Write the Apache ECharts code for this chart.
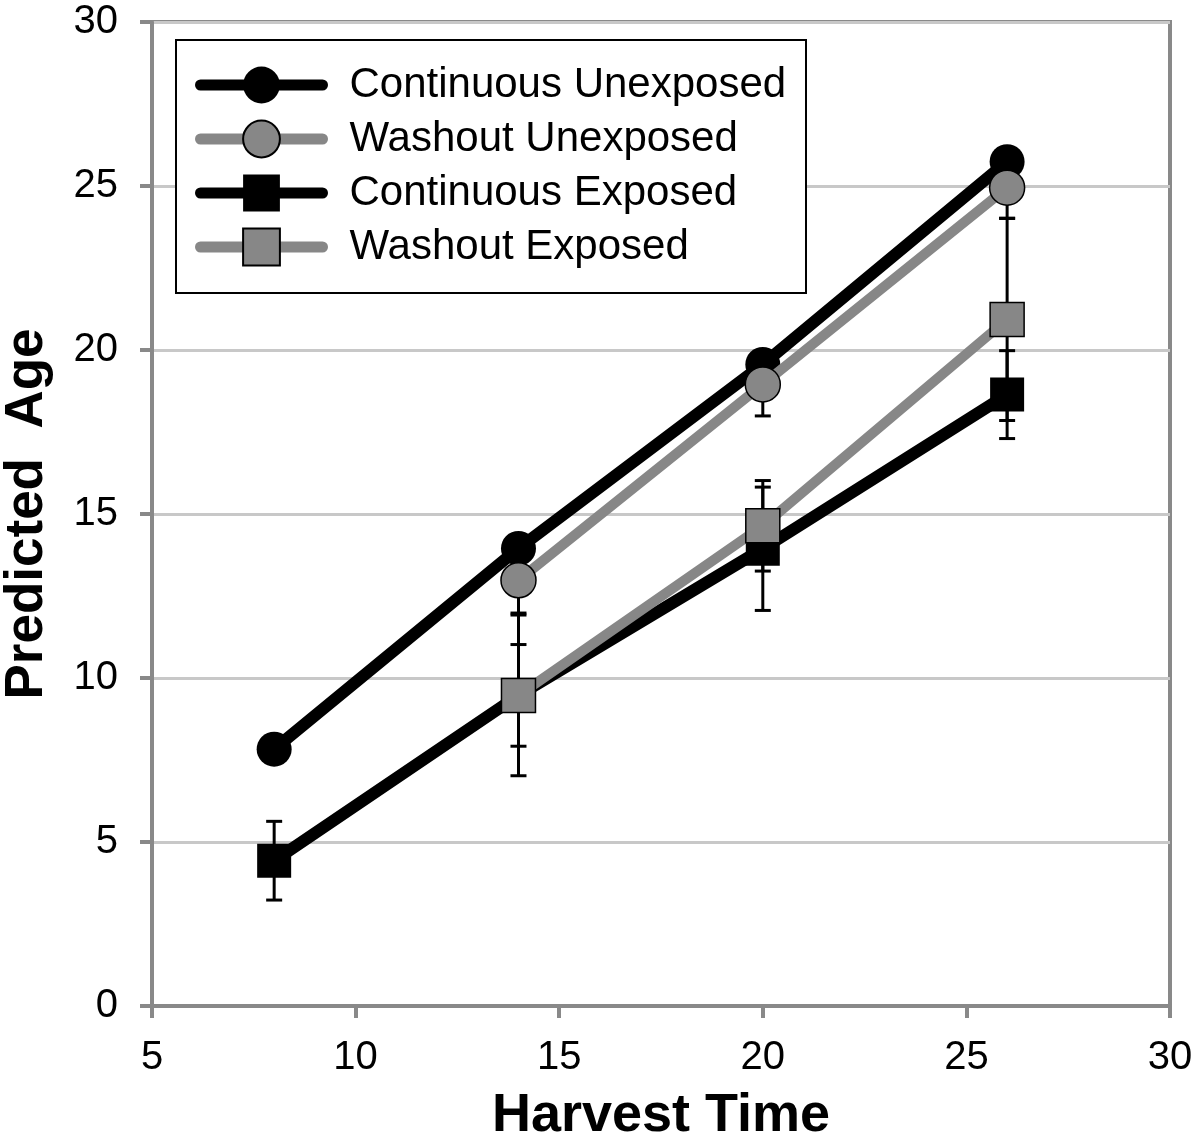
<!DOCTYPE html>
<html>
<head>
<meta charset="utf-8">
<script src="https://cdn.jsdelivr.net/npm/echarts@6/dist/echarts.min.js"></script>
<style>html,body{margin:0;padding:0;background:#fff}#c{width:1200px;height:1145px}</style>
</head>
<body>
<div id="c"></div>
<script>
const harvestTimes = [8, 14, 20, 26];
const seriesNames = ['Continuous Unexposed', 'Washout Unexposed', 'Continuous Exposed', 'Washout Exposed'];
const continuousUnexposed = [7.83, 13.95, 19.56, 25.74];
const washoutUnexposed = [null, 12.98, 18.95, 24.95];
const continuousExposed = [4.43, 9.47, 13.94, 18.64];
const washoutExposed = [null, 9.47, 14.64, 20.93];
const errContinuousUnexposed = [0, 0, 0, 0];
const errWashoutUnexposed = [null, 1.0, 0.96, 0.93];
const errContinuousExposed = [1.2, 1.55, 1.88, 1.34];
const errWashoutExposed = [null, 2.45, 1.38, 3.08];
const xTicks = [5, 10, 15, 20, 25, 30];
const yTicks = [0, 5, 10, 15, 20, 25, 30];

const FONT = "'Liberation Sans', Arial, sans-serif";
const AXIS_GREY = '#898989';
const GREY = '#878787';

function pts(vals) {
  return harvestTimes.map((x, i) => vals[i] == null ? null : [x, vals[i]]).filter(d => d);
}
function errData(vals, errs) {
  const out = [];
  harvestTimes.forEach((x, i) => {
    if (vals[i] != null && errs[i]) out.push([x, vals[i] - errs[i], vals[i] + errs[i]]);
  });
  return out;
}
const allErr = [].concat(
  errData(continuousUnexposed, errContinuousUnexposed),
  errData(washoutUnexposed, errWashoutUnexposed),
  errData(continuousExposed, errContinuousExposed),
  errData(washoutExposed, errWashoutExposed)
);

function lineSeries(name, vals, color, width, symbol, size, z) {
  return {
    name: name, type: 'line', data: pts(vals), z: z,
    symbol: symbol, symbolSize: size,
    lineStyle: { color: color, width: width },
    itemStyle: { color: color, borderColor: '#000', borderWidth: color === '#000' ? 0 : 1.5 },
    emphasis: { disabled: true }
  };
}

const chart = echarts.init(document.getElementById('c'), null, { renderer: 'canvas' });
chart.setOption({
  animation: false,
  backgroundColor: '#fff',
  grid: { left: 152, right: 30, top: 22, bottom: 139, show: true, borderColor: AXIS_GREY, borderWidth: 4, backgroundColor: 'transparent', outerBoundsMode: 'none', containLabel: false },
  xAxis: {
    type: 'value', min: xTicks[0], max: xTicks[xTicks.length - 1], interval: 5,
    name: 'Harvest Time', nameLocation: 'middle', nameGap: 83,
    nameTextStyle: { fontFamily: FONT, fontWeight: 'bold', fontSize: 54, color: '#000' },
    axisLine: { show: true, lineStyle: { color: AXIS_GREY, width: 4 } },
    axisTick: { show: true, length: 12, lineStyle: { color: AXIS_GREY, width: 4 } },
    axisLabel: { fontFamily: FONT, fontSize: 40, color: '#000', margin: 32 },
    splitLine: { show: false }
  },
  yAxis: {
    type: 'value', min: yTicks[0], max: yTicks[yTicks.length - 1], interval: 5,
    name: 'Predicted  Age', nameLocation: 'middle', nameGap: 98,
    nameTextStyle: { fontFamily: FONT, fontWeight: 'bold', fontSize: 53, color: '#000' },
    axisLine: { show: true, lineStyle: { color: AXIS_GREY, width: 4 } },
    axisTick: { show: true, length: 12, lineStyle: { color: AXIS_GREY, width: 4 } },
    axisLabel: { fontFamily: FONT, fontSize: 40, color: '#000', margin: 34 },
    splitLine: { show: true, lineStyle: { color: '#c8c8c8', width: 3 } }
  },
  legend: {
    data: seriesNames, orient: 'vertical', left: 195, top: 64, padding: 0,
    itemWidth: 122, itemHeight: 46, itemGap: 12, z: 20,
    lineStyle: { width: 11, cap: 'round' },
    textStyle: { fontFamily: FONT, fontSize: 42, color: '#000', padding: [0, 0, 0, 22] },
    selectedMode: false
  },
  graphic: [{
    type: 'rect', z: 15, left: 175, top: 39,
    shape: { width: 630, height: 253 },
    style: { fill: '#fff', stroke: '#000', lineWidth: 2 }
  }],
  series: [
    {
      type: 'custom', name: 'errors', z: 2, data: allErr, silent: true,
      renderItem: function (params, api) {
        const x = api.value(0);
        const lo = api.coord([x, api.value(1)]);
        const hi = api.coord([x, api.value(2)]);
        const hw = 8;
        const st = { stroke: '#000', lineWidth: 3 };
        return { type: 'group', children: [
          { type: 'line', shape: { x1: lo[0], y1: lo[1], x2: hi[0], y2: hi[1] }, style: st },
          { type: 'line', shape: { x1: lo[0] - hw, y1: lo[1], x2: lo[0] + hw, y2: lo[1] }, style: st },
          { type: 'line', shape: { x1: hi[0] - hw, y1: hi[1], x2: hi[0] + hw, y2: hi[1] }, style: st }
        ]};
      }
    },
    lineSeries(seriesNames[0], continuousUnexposed, '#000', 12, 'circle', 35, 3),
    lineSeries(seriesNames[1], washoutUnexposed, GREY, 10, 'circle', 35, 4),
    lineSeries(seriesNames[2], continuousExposed, '#000', 12, 'rect', 34, 5),
    lineSeries(seriesNames[3], washoutExposed, GREY, 10, 'rect', 34, 6)
  ]
});
</script>
</body>
</html>
